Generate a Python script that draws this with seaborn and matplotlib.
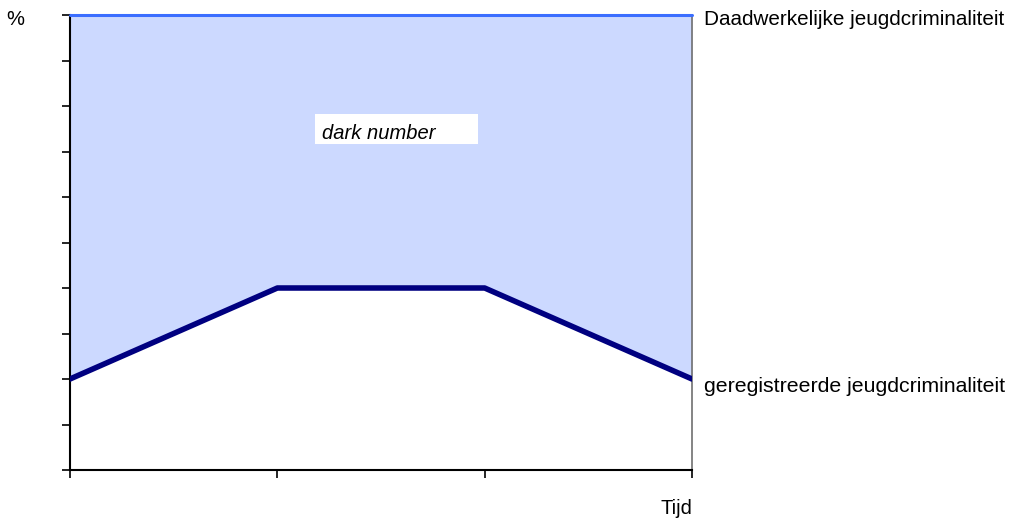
import matplotlib
matplotlib.use("Agg")
import matplotlib.pyplot as plt
from matplotlib.patches import Rectangle
import seaborn as sns
import pandas as pd

# data
tijd = [0, 1, 2, 3]
werkelijk = [100, 100, 100, 100]
geregistreerd = [20, 40, 40, 20]
y_ticks = list(range(0, 101, 10))

df = pd.DataFrame({"Tijd": tijd, "werkelijk": werkelijk, "geregistreerd": geregistreerd})

sns.set_style("white")
plt.rcParams['font.family'] = ['Liberation Sans', 'DejaVu Sans']

fig = plt.figure(figsize=(10.1, 5.2), dpi=100)
ax = fig.add_axes([70 / 1010, 50 / 520, 622 / 1010, 455 / 520])

ax.fill_between(df["Tijd"], df["geregistreerd"], df["werkelijk"], color="#CCD9FF", linewidth=0, zorder=1)
sns.lineplot(data=df, x="Tijd", y="werkelijk", color="#3B6EFF", linewidth=2.2, ax=ax, zorder=3, clip_on=False)
sns.lineplot(data=df, x="Tijd", y="geregistreerd", color="#000080", linewidth=4, ax=ax, zorder=3)

ax.set_xlim(0, 3)
ax.set_ylim(0, 100)
ax.set_xticks(tijd)
ax.set_yticks(y_ticks)
ax.set_xticklabels([])
ax.set_yticklabels([])
ax.set_xlabel("")
ax.set_ylabel("")
ax.tick_params(axis="both", direction="out", length=6, width=1.2, color="black",
               bottom=True, left=True)

for side in ["left", "bottom"]:
    ax.spines[side].set_color("black")
    ax.spines[side].set_linewidth(1.5)
ax.spines["right"].set_color("#707070")
ax.spines["right"].set_linewidth(1.2)
ax.spines["top"].set_visible(False)

fs = 14.5
ax.text(3.06, 101, "Daadwerkelijke jeugdcriminaliteit", ha="left", va="top", fontsize=14.9, color="black", clip_on=False)
ax.text(3.06, 20.5, "geregistreerde jeugdcriminaliteit", ha="left", va="top", fontsize=15.3, color="black", clip_on=False)
ax.text(-0.22, 101, "%", ha="right", va="top", fontsize=fs, color="black", clip_on=False)
ax.text(3, -6.3, "Tijd", ha="right", va="top", fontsize=fs, color="black", clip_on=False)

ax.add_patch(Rectangle((1.182, 71.6), 0.786, 6.6, facecolor="white", edgecolor="none", zorder=2))
ax.text(1.215, 74.0, "dark number", ha="left", va="center", fontsize=fs, style="italic", color="black", zorder=4)

fig.savefig("out.png", dpi=100)
